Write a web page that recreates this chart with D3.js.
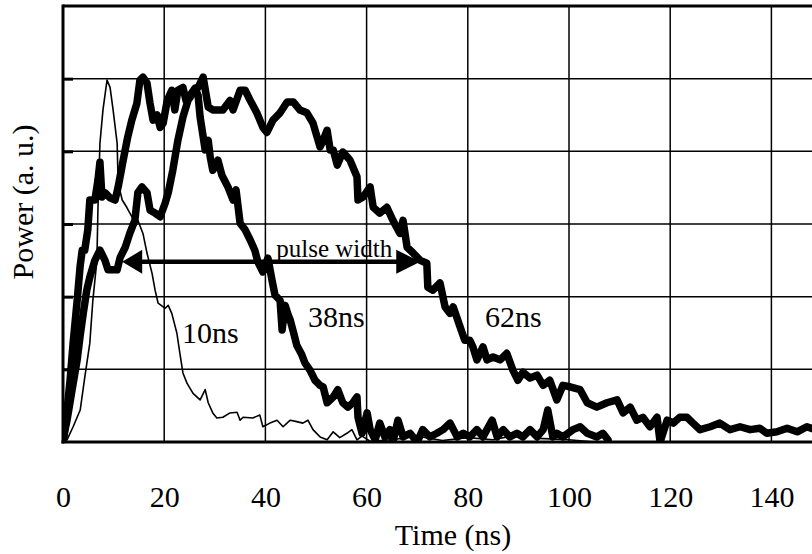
<!DOCTYPE html>
<html>
<head>
<meta charset="utf-8">
<script src="https://cdn.jsdelivr.net/npm/d3@7"></script>
<style>
  html, body { margin: 0; padding: 0; background: #fff; }
  svg text { font-family: "Liberation Serif", "Times New Roman", serif; fill: #000; }
</style>
</head>
<body>
<div class="chart"></div>
<script>
'use strict';

// time (ns), power (a.u., 1 unit = one grid row)
var pulse10 = [[0,0],[0.8,0.03],[2.0,0.21],[3.4,0.44],[4.3,0.89],[5.3,1.36],[5.9,1.95],[6.7,2.5],[6.9,3.19],
  [7.3,4.11],[7.9,4.57],[8.7,4.98],[9.3,4.88],[9.9,4.57],[10.7,4.11],[10.9,3.56],[11.7,3.33],[12.6,3.23],
  [13.6,3.1],[14.8,3.05],[15.8,2.87],[16.6,2.6],[17.6,2.32],[18.2,2.09],[18.8,1.91],[20.2,1.84],[20.8,1.88],
  [21.5,1.77],[22.5,1.5],[23.1,1.22],[23.7,0.95],[24.5,0.81],[25.7,0.67],[27.1,0.58],[28.1,0.72],[28.7,0.54],
  [29.6,0.4],[30.4,0.33],[31.6,0.34],[33.0,0.4],[34.4,0.41],[35.0,0.3],[35.6,0.34],[37.5,0.33],[38.9,0.37],
  [39.5,0.21],[40.9,0.26],[42.3,0.3],[43.5,0.21],[44.9,0.3],[46.2,0.28],[47.4,0.26],[48.4,0.3],[49.4,0.17],
  [50.8,0.07],[52.2,0.03],[53.4,0.14],[54.7,0.06],[56.1,0.12],[57.1,0.17],[58.1,0.03],[59.1,0.08],[60.7,0.01],
  [65,0.03],[70,0.08],[75,0.02],[80,0.06],[85,0.03],[90,0.1],[92.3,0.17],[94,0.05],[100,0.03],[105,0]];

var pulse38 = [[0,0],[0.6,0.3],[1.4,0.85],[2.0,1.36],[2.8,1.95],[3.4,2.43],[3.8,2.64],[4.3,2.64],[4.9,2.92],
  [5.3,3.33],[6.3,3.33],[6.9,3.6],[7.3,3.85],[7.7,3.37],[8.3,3.43],[9.3,3.36],[10.3,3.33],[10.9,3.51],
  [11.9,3.88],[12.8,4.2],[13.6,4.43],[14.6,4.66],[15.2,4.98],[15.8,5.02],[16.6,4.94],[17.2,4.66],[17.8,4.43],
  [18.6,4.5],[19.2,4.33],[19.8,4.39],[20.6,4.7],[21.5,4.84],[22.1,4.57],[22.7,4.84],[23.7,4.88],[24.3,4.7],
  [25.1,4.77],[26.1,4.87],[26.7,4.77],[27.1,4.47],[28.1,4.02],[28.7,4.15],[29.1,3.92],[29.6,3.74],[30.6,3.88],
  [31.4,3.67],[32.6,3.51],[33.6,3.33],[34.2,3.47],[35.0,3.01],[36.0,2.92],[37.0,2.78],[37.9,2.64],[38.5,2.48],
  [39.5,2.34],[40.5,2.53],[41.3,2.23],[41.9,2.02],[42.9,1.95],[43.3,1.54],[43.9,1.88],[44.5,1.75],[44.9,1.68],
  [45.7,1.47],[46.2,1.33],[47.2,1.2],[47.8,1.09],[48.8,0.99],[49.8,0.85],[50.8,0.78],[51.4,0.76],[52.2,0.54],
  [53.4,0.62],[54.3,0.72],[55.3,0.54],[56.3,0.48],[57.3,0.54],[58.1,0.62],[58.3,0.34],[59.1,0.12],[60.1,0.4],
  [60.7,0.17],[61.7,0.03],[62.6,0.26],[63.6,0.07],[64.6,0.17],[65.2,0],[66.2,0.3],[67.2,0.07],[68.6,0.12],
  [70.0,0],[71.1,0.17],[72.5,0.07],[73.9,0.12],[75.1,0.17],[76.5,0.26],[77.9,0.07],[79.1,0.12],[80.4,0.07],
  [81.8,0.17],[83.0,0.07],[84.8,0.3],[85.8,0.07],[87.0,0.17],[88.3,0.07],[89.7,0.12],[90.9,0.07],[92.3,0.17],
  [93.7,0.07],[94.9,0.17],[95.8,0.44],[96.8,0.07],[97.6,0.12],[98.8,0.07],[100.8,0.17],[102.2,0.21],[103.6,0.12],
  [105.5,0.07],[106.7,0.12],[107.7,0.03]];

var pulse62 = [[0,0],[0.4,0.17],[0.8,0.3],[1.8,0.72],[2.8,1.13],[3.4,1.47],[4.0,1.77],[4.7,2.09],[5.3,2.27],
  [6.3,2.5],[7.3,2.64],[8.3,2.5],[8.9,2.37],[10.7,2.37],[11.3,2.54],[12.3,2.68],[13.2,2.87],[14.2,3.05],
  [14.8,3.43],[15.6,3.51],[16.6,3.43],[17.2,3.19],[18.2,3.15],[19.2,3.1],[20.2,3.29],[20.8,3.43],[21.7,3.74],
  [22.7,4.15],[23.7,4.47],[24.7,4.7],[25.7,4.8],[26.7,4.88],[27.7,5.02],[28.7,4.61],[29.6,4.57],[31.6,4.57],
  [33.0,4.7],[33.6,4.57],[35.0,4.84],[36.0,4.84],[37.0,4.7],[38.3,4.53],[39.5,4.33],[40.3,4.26],[41.5,4.43],
  [42.9,4.53],[44.3,4.68],[45.5,4.68],[46.8,4.57],[48.2,4.53],[49.4,4.39],[50.8,4.06],[51.4,4.15],[52.2,4.29],
  [52.8,4.02],[53.4,4.02],[54.2,3.81],[55.3,3.99],[56.7,3.88],[58.1,3.65],[58.3,3.33],[59.3,3.37],[60.7,3.51],
  [61.3,3.23],[62.6,3.15],[64.0,3.23],[65.2,3.05],[66.6,2.87],[67.2,3.05],[68.0,2.68],[69.2,2.6],[70.6,2.5],
  [71.9,2.46],[72.1,2.13],[73.1,2.09],[74.5,2.19],[75.5,1.86],[76.5,1.77],[77.1,1.86],[78.5,1.58],[79.4,1.4],
  [80.4,1.4],[81.0,1.31],[81.8,1.13],[83.0,1.31],[83.8,1.13],[85.0,1.17],[86.4,1.13],[87.7,1.22],[88.9,0.99],
  [89.9,0.85],[90.9,0.96],[92.3,0.88],[93.7,0.92],[94.9,0.78],[96.2,0.85],[97.6,0.58],[98.8,0.78],[100.2,0.76],
  [102.2,0.72],[103.6,0.54],[105.5,0.48],[107.5,0.54],[109.5,0.58],[110.7,0.4],[112.1,0.48],[113.4,0.3],
  [114.6,0.34],[116.0,0.21],[117.4,0.34],[118.0,0],[119.4,0.3],[120.6,0.26],[121.9,0.34],[123.3,0.34],
  [124.5,0.26],[125.9,0.17],[127.9,0.21],[129.8,0.26],[131.8,0.17],[133.8,0.21],[135.8,0.17],[137.7,0.19],
  [139.1,0.12],[141.1,0.14],[143.1,0.19],[145.1,0.14],[147.0,0.21],[148.6,0.17],[150,0.15]];

var xTicks = [0, 20, 40, 60, 80, 100, 120, 140];
var yTicks = [1, 2, 3, 4, 5];
var widthLabels = [{text: '10ns', t: 23.5, p: 1.36}, {text: '38ns', t: 48.4, p: 1.58}, {text: '62ns', t: 83.4, p: 1.58}];
var pulseWidth = {from: 11.7, to: 70.6, level: 2.48, text: 'pulse width', t: 53.6, p: 2.54};

var FONT = '"Liberation Serif", "Times New Roman", Times, serif';

var W = 812, H = 554,
    margin = {top: 6, left: 63, bottom: 112},
    x = d3.scaleLinear().domain([0, 150]).range([margin.left, 822]),
    y = d3.scaleLinear().domain([0, 6]).range([H - margin.bottom, margin.top]),
    svg = d3.select('.chart').append('svg').attr('width', W).attr('height', H);

svg.append('defs').append('clipPath').attr('id', 'plot')
  .append('rect').attr('x', x(0)).attr('y', y(6)).attr('width', x(150) - x(0)).attr('height', y(0) - y(6));

// grid
var grid = svg.append('g');
grid.selectAll('line.v').data(xTicks.slice(1)).enter().append('line')
  .attr('x1', function (d) { return x(d); }).attr('x2', function (d) { return x(d); })
  .attr('y1', y(6)).attr('y2', y(0)).attr('stroke', '#000').attr('stroke-width', 1.5);
grid.selectAll('line.h').data(yTicks).enter().append('line')
  .attr('x1', x(0)).attr('x2', x(150))
  .attr('y1', function (d) { return y(d); }).attr('y2', function (d) { return y(d); })
  .attr('stroke', '#000').attr('stroke-width', 1.5);

// traces
var line = d3.line().x(function (d) { return x(d[0]); }).y(function (d) { return y(d[1]); });
var traces = svg.append('g').attr('clip-path', 'url(#plot)');
traces.append('path').datum(pulse10).attr('d', line)
  .attr('fill', 'none').attr('stroke', '#000').attr('stroke-width', 1.6).attr('stroke-linejoin', 'round');
[pulse38, pulse62].forEach(function (s) {
  traces.append('path').datum(s).attr('d', line)
    .attr('fill', 'none').attr('stroke', '#000').attr('stroke-width', 7.5)
    .attr('stroke-linejoin', 'round').attr('stroke-linecap', 'round');
});

// frame + axes
svg.append('line').attr('x1', x(0)).attr('x2', x(150)).attr('y1', y(6)).attr('y2', y(6))
  .attr('stroke', '#000').attr('stroke-width', 3);
svg.append('line').attr('x1', x(0)).attr('x2', x(0)).attr('y1', y(6) - 1.5).attr('y2', y(0) + 1.5)
  .attr('stroke', '#000').attr('stroke-width', 3);
svg.append('line').attr('x1', x(0) - 1.5).attr('x2', x(150)).attr('y1', y(0)).attr('y2', y(0))
  .attr('stroke', '#000').attr('stroke-width', 3);

var yAxis = d3.axisLeft(y).tickValues(yTicks).tickSize(-10).tickFormat('');
svg.append('g').attr('transform', 'translate(' + x(0) + ',0)').call(yAxis)
  .call(function (g) {
    g.select('.domain').remove();
    g.selectAll('.tick line').attr('stroke', '#000').attr('stroke-width', 3);
  });

var xAxis = d3.axisBottom(x).tickValues(xTicks).tickSize(0).tickPadding(44);
svg.append('g').attr('transform', 'translate(0,' + y(0) + ')').call(xAxis)
  .call(function (g) {
    g.select('.domain').remove();
    g.selectAll('.tick text').attr('font-size', 30).attr('font-family', FONT).attr('fill', '#000');
  });

svg.append('text').attr('x', 453).attr('y', 545).attr('text-anchor', 'middle')
  .attr('font-family', FONT).attr('font-size', 30).text('Time (ns)');
svg.append('text').attr('transform', 'translate(33,202) rotate(-90)').attr('text-anchor', 'middle')
  .attr('font-family', FONT).attr('font-size', 30).text('Power (a. u.)');

// annotations
svg.selectAll('text.width').data(widthLabels).enter().append('text')
  .attr('x', function (d) { return x(d.t); }).attr('y', function (d) { return y(d.p); })
  .attr('font-family', FONT).attr('font-size', 30).text(function (d) { return d.text; });

var ay = y(pulseWidth.level), ax1 = x(pulseWidth.from), ax2 = x(pulseWidth.to);
svg.append('line').attr('x1', ax1 + 15).attr('x2', ax2 - 15).attr('y1', ay).attr('y2', ay)
  .attr('stroke', '#000').attr('stroke-width', 4.5);
svg.append('path').attr('d', 'M' + ax1 + ',' + ay + 'L' + (ax1 + 20) + ',' + (ay - 12) + 'L' + (ax1 + 20) + ',' + (ay + 12) + 'Z');
svg.append('path').attr('d', 'M' + ax2 + ',' + ay + 'L' + (ax2 - 24) + ',' + (ay - 12) + 'L' + (ax2 - 24) + ',' + (ay + 12) + 'Z');
svg.append('text').attr('x', x(pulseWidth.t)).attr('y', y(pulseWidth.p)).attr('text-anchor', 'middle')
  .attr('font-family', FONT).attr('font-size', 25).text(pulseWidth.text);
</script>
</body>
</html>
